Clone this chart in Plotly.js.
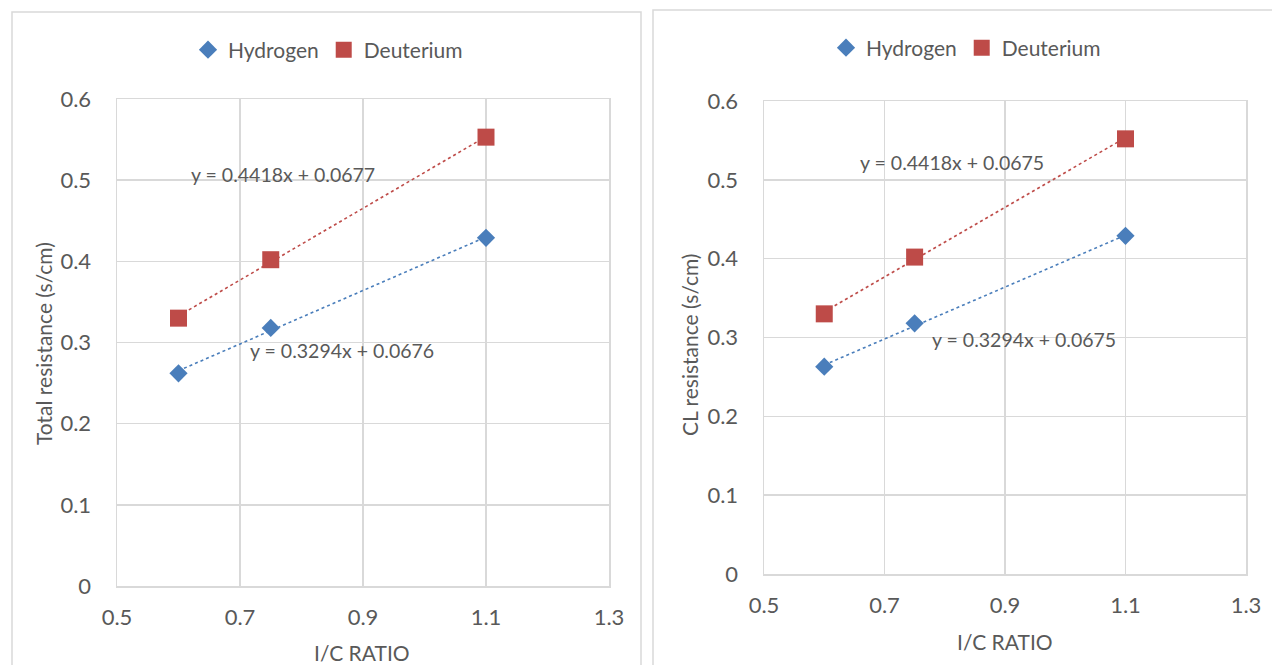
<!DOCTYPE html>
<html>
<head>
<meta charset="utf-8">
<script src="https://cdn.plot.ly/plotly-3.0.1.min.js"></script>
<style>
  html, body { margin: 0; padding: 0; background: #ffffff; }
  #chart { width: 1272px; height: 665px; }
</style>
</head>
<body>
<div id="chart"></div>
<script>
// ---- data ----
const icRatio = [0.6, 0.75, 1.1];
const seriesNames = ['Hydrogen', 'Deuterium'];

const totalHydrogen = [0.262, 0.318, 0.429];
const totalDeuterium = [0.330, 0.402, 0.553];
const clHydrogen = [0.263, 0.318, 0.429];
const clDeuterium = [0.330, 0.402, 0.552];

// trendline coefficients as printed on the chart
const totalSlopes = [0.3294, 0.4418];
const totalIntercepts = [0.0676, 0.0677];
const clSlopes = [0.3294, 0.4418];
const clIntercepts = [0.0675, 0.0675];

const xTicks = [0.5, 0.7, 0.9, 1.1, 1.3];
const yTicks = [0, 0.1, 0.2, 0.3, 0.4, 0.5, 0.6];

const xTitle = 'I/C RATIO';
const yTitleLeft = 'Total resistance (s/cm)';
const yTitleRight = 'CL resistance (s/cm)';

// ---- styling ----
const FONT = 'Lato, "Open Sans", sans-serif';
const TXT = '#595959';
const GRID = '#d9d9d9';
const BLUE = '#4a7ebb';
const RED = '#be4b48';

function eqText(m, b) {
  return 'y = ' + m.toFixed(4) + 'x + ' + b.toFixed(4);
}
function trendY(m, b, xs) { return xs.map(x => m * x + b); }

const xEnds = [Math.min(...icRatio), Math.max(...icRatio)];

function panelTraces(hVals, dVals, slopes, intercepts, xa, ya, legendId) {
  return [
    { x: xEnds, y: trendY(slopes[0], intercepts[0], xEnds), xaxis: xa, yaxis: ya,
      mode: 'lines', line: { color: BLUE, width: 1.6, dash: 'dot' }, showlegend: false, hoverinfo: 'skip' },
    { x: xEnds, y: trendY(slopes[1], intercepts[1], xEnds), xaxis: xa, yaxis: ya,
      mode: 'lines', line: { color: RED, width: 1.6, dash: 'dot' }, showlegend: false, hoverinfo: 'skip' },
    { x: icRatio, y: hVals, xaxis: xa, yaxis: ya, name: seriesNames[0], legend: legendId,
      mode: 'markers', marker: { symbol: 'diamond', size: 14, color: BLUE } },
    { x: icRatio, y: dVals, xaxis: xa, yaxis: ya, name: seriesNames[1], legend: legendId,
      mode: 'markers', marker: { symbol: 'square', size: 17, color: RED } }
  ];
}

const data = [
  ...panelTraces(totalHydrogen, totalDeuterium, totalSlopes, totalIntercepts, 'x', 'y', 'legend'),
  ...panelTraces(clHydrogen, clDeuterium, clSlopes, clIntercepts, 'x2', 'y2', 'legend2')
];

function xAxis(domain, anchor) {
  return {
    domain: domain, anchor: anchor, range: [0.5, 1.3], tickvals: xTicks, ticktext: xTicks.map(String),
    showgrid: true, gridcolor: GRID, gridwidth: 1.5, zeroline: false,
    showline: true, linecolor: GRID, linewidth: 1.5, mirror: true,
    ticks: 'outside', ticklen: 11, tickcolor: 'rgba(0,0,0,0)',
    tickfont: { family: FONT, size: 22, color: TXT }, fixedrange: true
  };
}
function yAxis(domain, anchor) {
  return {
    domain: domain, anchor: anchor, range: [0, 0.6], tickvals: yTicks, ticktext: yTicks.map(String),
    showgrid: true, gridcolor: GRID, gridwidth: 1.5, zeroline: false,
    showline: true, linecolor: GRID, linewidth: 1.5, mirror: true,
    ticks: 'outside', ticklen: 20, tickcolor: 'rgba(0,0,0,0)',
    tickfont: { family: FONT, size: 22, color: TXT }, fixedrange: true
  };
}

const W = 1272, H = 665;
const px = v => v / W;
const py = v => 1 - v / H;

const legendBase = {
  orientation: 'h', xanchor: 'center', yanchor: 'middle',
  font: { family: FONT, size: 21, color: TXT }, bgcolor: 'rgba(0,0,0,0)',
  itemclick: false, itemdoubleclick: false
};

const annFont = { family: FONT, size: 19.5, color: TXT };
const titleFont = { family: FONT, size: 21, color: TXT };

function paperText(x, y, text, angle) {
  return { xref: 'paper', yref: 'paper', x: px(x), y: py(y), text: text, textangle: angle || 0,
    xanchor: 'center', yanchor: 'middle', showarrow: false, font: titleFont };
}

const layout = {
  width: W, height: H,
  margin: { l: 0, r: 0, t: 0, b: 0 },
  paper_bgcolor: '#ffffff', plot_bgcolor: '#ffffff',
  font: { family: FONT, color: TXT },
  xaxis: xAxis([px(117), px(609)], 'y'),
  yaxis: yAxis([1 - 586 / H, 1 - 99 / H], 'x'),
  xaxis2: xAxis([px(764), px(1246)], 'y2'),
  yaxis2: yAxis([1 - 574 / H, 1 - 101 / H], 'x2'),
  legend: Object.assign({}, legendBase, { x: px(328), y: py(50) }),
  legend2: Object.assign({}, legendBase, { x: px(966), y: py(48) }),
  shapes: [
    { type: 'rect', xref: 'paper', yref: 'paper', x0: px(12), x1: px(641), y0: -0.1, y1: py(12),
      line: { color: GRID, width: 1.5 }, layer: 'below' },
    { type: 'rect', xref: 'paper', yref: 'paper', x0: px(653), x1: 1.1, y0: -0.1, y1: py(10),
      line: { color: GRID, width: 1.5 }, layer: 'below' }
  ],
  annotations: [
    { xref: 'x', yref: 'y', x: 0.77, y: 0.5076, text: eqText(totalSlopes[1], totalIntercepts[1]),
      xanchor: 'center', yanchor: 'middle', showarrow: false, font: annFont },
    { xref: 'x', yref: 'y', x: 0.866, y: 0.2907, text: eqText(totalSlopes[0], totalIntercepts[0]),
      xanchor: 'center', yanchor: 'middle', showarrow: false, font: annFont },
    { xref: 'x2', yref: 'y2', x: 0.812, y: 0.5214, text: eqText(clSlopes[1], clIntercepts[1]),
      xanchor: 'center', yanchor: 'middle', showarrow: false, font: annFont },
    { xref: 'x2', yref: 'y2', x: 0.9315, y: 0.298, text: eqText(clSlopes[0], clIntercepts[0]),
      xanchor: 'center', yanchor: 'middle', showarrow: false, font: annFont },
    paperText(43, 344, yTitleLeft, -90),
    paperText(689, 345, yTitleRight, -90),
    paperText(362, 652, xTitle),
    paperText(1005, 641, xTitle)
  ]
};

Plotly.newPlot('chart', data, layout, { displayModeBar: false, staticPlot: true });
</script>
</body>
</html>
